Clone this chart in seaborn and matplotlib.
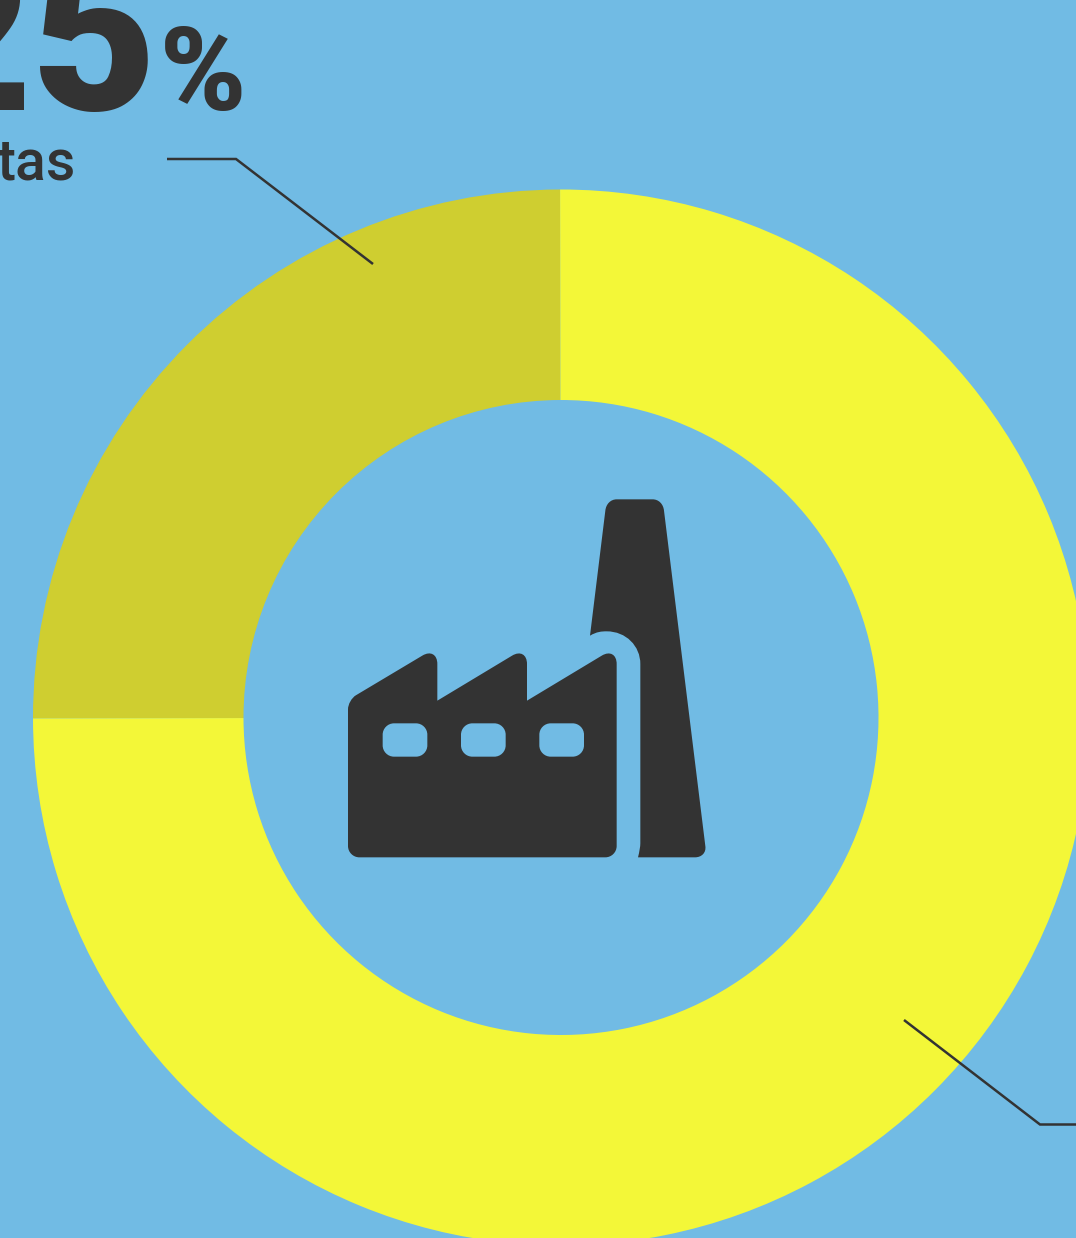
import matplotlib
matplotlib.use("Agg")
import matplotlib.pyplot as plt
import numpy as np
import seaborn as sns
from matplotlib.patches import PathPatch
from matplotlib.path import Path

# Chart data
segment_names = ["tas", "resto"]
segment_shares = [25, 75]
headline_number = "25"
headline_unit = "%"
segment_caption = "tas"

BG = "#71BBE4"
INK = "#333333"
segment_colors = ["#CFCE30", "#F3F738"]

W, H = 1076, 1238

sns.set_theme(style="white")
plt.rcParams["font.family"] = ["Roboto", "DejaVu Sans"]

fig = plt.figure(figsize=(W / 100, H / 100), dpi=100, facecolor=BG)
ax = fig.add_axes([0, 0, 1, 1])

# Ring, measured in pixel units with the origin at the lower left
ax.pie(
    segment_shares,
    colors=segment_colors,
    startangle=90.1,
    counterclock=True,
    radius=528,
    center=(561, H - 717.5),
    wedgeprops={"width": 210.5, "linewidth": 0},
)
ax.set_xlim(0, W)
ax.set_ylim(0, H)
ax.set_facecolor(BG)
ax.set_axis_off()


def flip(points):
    return [(x, H - y) for x, y in points]


# Leader lines from the ring to the captions
for line in ([(167, 159), (236, 159), (373, 264)],
             [(904, 1020), (1040, 1124.5), (1080, 1124.5)]):
    xs, ys = zip(*flip(line))
    ax.plot(xs, ys, color=INK, lw=1.8, solid_joinstyle="miter", solid_capstyle="butt")

# Headline figures and caption, running off the top left corner
ax.text(158, H - 110, headline_number, ha="right", va="baseline",
        fontsize=156, fontweight="black", color=INK)
ax.text(246, H - 110, headline_unit, ha="right", va="baseline",
        fontsize=84, fontweight="black", color=INK)
ax.text(76.5, H - 179, segment_caption, ha="right", va="baseline",
        fontsize=41, fontweight="medium", color=INK)


def icon_xy(u, v):
    # Icon outline is laid out on a 3x grid anchored at (330, 480)
    return (330 + u / 3, H - (480 + v / 3))


def rounded_polygon(vertices, radii):
    """Closed path through vertices, with each corner rounded by its radius."""
    pts = [np.array(v, float) for v in vertices]
    n = len(pts)
    codes, path = [], []
    for i, p in enumerate(pts):
        prev_p, next_p = pts[i - 1], pts[(i + 1) % n]
        r = radii[i]
        a = p + (prev_p - p) / np.linalg.norm(prev_p - p) * r
        b = p + (next_p - p) / np.linalg.norm(next_p - p) * r
        codes += [Path.MOVETO if i == 0 else Path.LINETO,
                  Path.CURVE4, Path.CURVE4, Path.CURVE4]
        path += [a, a + (p - a) * 0.55, b + (p - b) * 0.55, b]
    codes.append(Path.CLOSEPOLY)
    path.append(path[0])
    return Path([icon_xy(*q) for q in path], codes)


# Factory hall with its saw-tooth roof
hall = rounded_polygon(
    [(54, 1132), (860, 1132), (860, 500), (591, 662), (591, 500),
     (322, 662), (322, 500), (54, 660)],
    [34, 34, 52, 0.1, 52, 0.1, 52, 28],
)
ax.add_patch(PathPatch(hall, fc=INK, ec="none"))

# Windows
for left in (158, 393, 628):
    window = rounded_polygon(
        [(left, 730), (left + 134, 730), (left + 134, 830), (left, 830)],
        [34, 34, 34, 34],
    )
    ax.add_patch(PathPatch(window, fc=BG, ec="none"))

# Chimney, whose lower left edge curves around the hall
chimney_outline = [
    ((924, 1132), Path.MOVETO),
    ((1095, 1132), Path.LINETO),
    ((1115, 1132), Path.CURVE4), ((1129, 1118), Path.CURVE4), ((1126, 1098), Path.CURVE4),
    ((1002, 92), Path.LINETO),
    ((1000, 72), Path.CURVE4), ((986, 58), Path.CURVE4), ((968, 58), Path.CURVE4),
    ((860, 58), Path.LINETO),
    ((842, 58), Path.CURVE4), ((828, 72), Path.CURVE4), ((826, 92), Path.CURVE4),
    ((780, 467), Path.LINETO),
    ((800, 455), Path.CURVE4), ((815, 454), Path.CURVE4), ((830, 454), Path.CURVE4),
    ((888, 454), Path.CURVE4), ((931, 498), Path.CURVE4), ((931, 552), Path.CURVE4),
    ((931, 1090), Path.LINETO),
    ((931, 1105), Path.CURVE3), ((924, 1132), Path.CURVE3),
    ((924, 1132), Path.CLOSEPOLY),
]
chimney = Path([icon_xy(*p) for p, _ in chimney_outline], [c for _, c in chimney_outline])
ax.add_patch(PathPatch(chimney, fc=INK, ec="none"))

fig.savefig("out.png", dpi=100, facecolor=BG)
